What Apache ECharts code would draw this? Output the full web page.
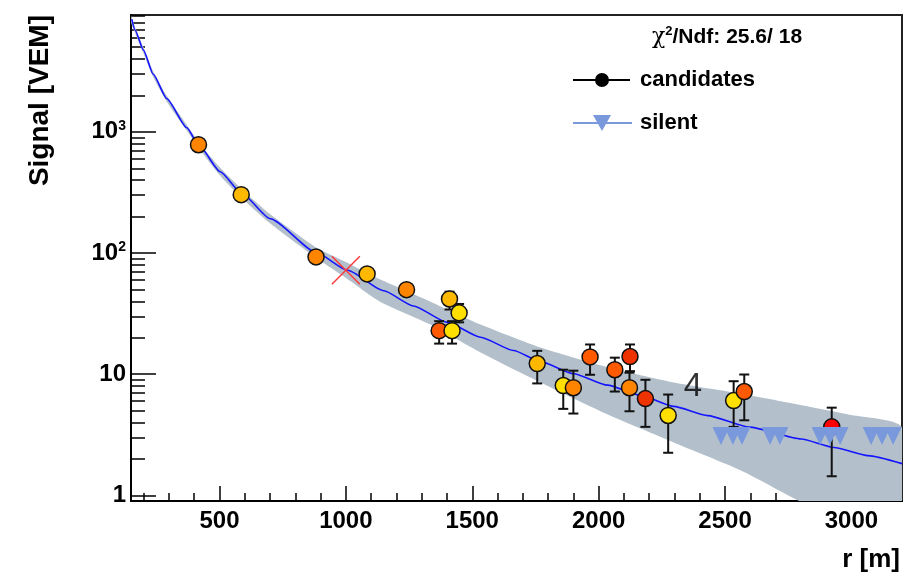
<!DOCTYPE html>
<html>
<head>
<meta charset="utf-8">
<script src="https://cdn.jsdelivr.net/npm/echarts@6/dist/echarts.min.js"></script>
<style>
    html, body { margin: 0; padding: 0; background: #fff; }
    #ldf { width: 910px; height: 576px; }
</style>
</head>
<body>
<div id="ldf"></div>
<script>
// candidate stations: distance to axis [m], signal [VEM], error bar ends, timing class
const candR  = [417, 586, 882, 1084, 1240, 1410, 1448, 1369, 1420, 1757, 1860, 1900, 1966, 2064, 2124, 2122, 2185, 2275, 2534, 2576, 2922]
const candS  = [783, 303, 92.9, 67.3, 49.9, 41.8, 32.1, 22.9, 22.9, 12.25, 8.07, 7.74, 13.9, 10.9, 14.0, 7.74, 6.3, 4.57, 6.07, 7.2, 3.68]
const candLo = [745, 288, 87, 63, 46, 34.2, 26.8, 17.9, 17.9, 8.4, 5.18, 4.74, 9.9, 7.2, 10.6, 4.95, 3.68, 2.25, 3.68, 4.17, 1.44]
const candHi = [823, 318, 99, 72, 54, 48, 38, 27.4, 27.4, 15.6, 10.9, 10.7, 17.6, 13.7, 17.6, 10.3, 9.0, 6.8, 8.76, 9.95, 5.3]
const candLevel = [2, 1, 2, 1, 2, 1, 0, 3, 0, 1, 0, 2, 3, 3, 4, 2, 4, 0, 0, 3, 5]

// silent stations
const silentR = [2484, 2531, 2567, 2678, 2717, 2876, 2915, 2955, 3078, 3121, 3165]
const silentS = [3.1, 3.1, 3.1, 3.1, 3.1, 3.1, 3.1, 3.1, 3.1, 3.1, 3.1]

// fitted LDF
const fitR = [153, 166, 199, 238, 291, 371, 417, 503, 589, 701, 886, 1005, 1150, 1267, 1401, 1533, 1663, 1770, 1901, 2035, 2167, 2297, 2431, 2595, 2801, 2931, 3065, 3200]
const fitS = [8510, 6920, 4730, 2985, 1884, 1079, 782, 469, 308, 192, 100, 72.4, 48.8, 36.6, 26.8, 20.2, 15.7, 12.7, 10.1, 8.13, 6.67, 5.43, 4.56, 3.66, 2.92, 2.49, 2.13, 1.83]

// uncertainty band of the fit
const bandR  = [150, 166, 199, 238, 291, 371, 423, 503, 589, 701, 886, 1002, 1137, 1335, 1533, 1770, 2036, 2297, 2563, 2789, 3000, 3200]
const bandHi = [9100, 7300, 5000, 3150, 1990, 1140, 795, 505, 335, 209, 110, 84, 60.4, 39.7, 25.7, 16.6, 11.4, 8.54, 6.9, 5.63, 4.6, 3.64]
const bandLo = [8000, 6550, 4470, 2830, 1780, 1020, 712, 434, 283, 175, 90, 62, 39.5, 25.7, 15.1, 8.54, 4.65, 2.74, 1.61, 0.91, 0.55, 0.36]

// S(1000) reference point
const refR = [1000]
const refS = [72]

// annotation
const noteR = [2373]
const noteS = [7.8]
const noteText = ['4']

// axes
const xMajor = [500, 1000, 1500, 2000, 2500, 3000]
const xMinor = [200, 300, 400, 600, 700, 800, 900, 1100, 1200, 1300, 1400, 1600, 1700, 1800, 1900,
    2100, 2200, 2300, 2400, 2600, 2700, 2800, 2900, 3100]
const yMajor = [1, 10, 100, 1000]
const yMajorLabels = ['1', '10', '10{sup|2}', '10{sup|3}']
const yMinor = [2, 3, 4, 5, 6, 7, 8, 9, 20, 30, 40, 50, 60, 70, 80, 90,
    200, 300, 400, 500, 600, 700, 800, 900, 2000, 3000, 4000, 5000, 6000, 7000, 8000, 9000]

const chiText = '{chi|χ}{sup|2}/Ndf: 25.6/ 18'
const legendNames = ['candidates', 'silent']

const levelColors = ['#ffe000', '#ffb800', '#ff8400', '#ff5a00', '#ee3200', '#ff0000']
const bandColor = '#b3c0cb'
const silentColor = '#7a98dc'
const fontFamily = '"Liberation Sans", Arial, sans-serif'

const X_MIN = 150, X_MAX = 3200, Y_MIN = 0.9, Y_MAX = 9200

function xAxisDef(values, len, main) {
    return {
        type: 'value', min: X_MIN, max: X_MAX, position: 'bottom',
        axisLine: { show: main, onZero: false, lineStyle: { color: '#000', width: 2 } },
        axisTick: { show: true, inside: true, length: len, customValues: values, lineStyle: { color: '#000', width: 1.5 } },
        axisLabel: {
            show: main, customValues: values, margin: 8,
            color: '#000', fontFamily: fontFamily, fontWeight: 'bold', fontSize: 24,
            formatter: (v) => String(Math.round(v)),
        },
        splitLine: { show: false },
    }
}

function yAxisDef(values, len, main) {
    return {
        type: 'log', logBase: 10, min: Y_MIN, max: Y_MAX, position: 'left',
        axisLine: { show: main, onZero: false, lineStyle: { color: '#000', width: 2 } },
        axisTick: { show: true, inside: true, length: len, customValues: values, lineStyle: { color: '#000', width: 1.5 } },
        axisLabel: {
            show: main, customValues: values, margin: 5,
            color: '#000', fontFamily: fontFamily, fontWeight: 'bold', fontSize: 24,
            formatter: (v) => {
                const i = yMajor.findIndex(t => Math.abs(t - v) / t < 1e-6)
                return i >= 0 ? yMajorLabels[i] : ''
            },
            rich: {
                sup: { fontSize: 14, fontWeight: 'bold', fontFamily: fontFamily, color: '#000', padding: [0, 0, 12, 0] },
            },
        },
        splitLine: { show: false },
    }
}

const chart = echarts.init(document.getElementById('ldf'), null, { renderer: 'canvas' })

chart.setOption({
    animation: false,
    backgroundColor: '#fff',
    grid: {
        left: 131, right: 8, top: 15, bottom: 75,
        show: true, borderColor: '#222', borderWidth: 2, backgroundColor: 'transparent',
    },
    xAxis: [xAxisDef(xMajor, 15, true), xAxisDef(xMinor, 8, false)],
    yAxis: [yAxisDef(yMajor, 25, true), yAxisDef(yMinor, 14, false)],
    series: [
        {
            // fit uncertainty band
            type: 'custom',
            clip: true,
            z: 1,
            data: bandR.map((r, i) => [r, bandLo[i], bandHi[i]]),
            renderItem: (params, api) => {
                if (params.dataIndex !== 0) return null
                const pts = []
                bandR.forEach((r, i) => pts.push(api.coord([r, bandHi[i]])))
                for (let i = bandR.length - 1; i >= 0; i--) pts.push(api.coord([bandR[i], bandLo[i]]))
                const cs = params.coordSys
                return {
                    type: 'polygon',
                    shape: { points: pts, smooth: 0.2 },
                    style: { fill: bandColor },
                    clipPath: { type: 'rect', shape: { x: cs.x, y: cs.y, width: cs.width, height: cs.height } },
                }
            },
        },
        {
            // LDF fit
            type: 'line',
            z: 2,
            data: fitR.map((r, i) => [r, fitS[i]]),
            smooth: 0.2,
            smoothMonotone: 'x',
            showSymbol: false,
            lineStyle: { color: '#1414ff', width: 1.6 },
        },
        {
            // error bars
            type: 'custom',
            z: 3,
            data: candR.map((r, i) => [r, candLo[i], candHi[i]]),
            renderItem: (params, api) => {
                const lo = api.coord([api.value(0), api.value(1)])
                const hi = api.coord([api.value(0), api.value(2)])
                const w = 5
                const st = { stroke: '#111', lineWidth: 2 }
                return {
                    type: 'group',
                    children: [
                        { type: 'line', shape: { x1: lo[0], y1: lo[1], x2: hi[0], y2: hi[1] }, style: st },
                        { type: 'line', shape: { x1: lo[0] - w, y1: lo[1], x2: lo[0] + w, y2: lo[1] }, style: st },
                        { type: 'line', shape: { x1: hi[0] - w, y1: hi[1], x2: hi[0] + w, y2: hi[1] }, style: st },
                    ],
                }
            },
        },
        {
            name: 'candidates',
            type: 'scatter',
            z: 4,
            symbol: 'circle',
            symbolSize: 16,
            data: candR.map((r, i) => ({
                value: [r, candS[i]],
                itemStyle: { color: levelColors[candLevel[i]] },
            })),
            itemStyle: { borderColor: '#111', borderWidth: 1.5, opacity: 1 },
        },
        {
            name: 'silent',
            type: 'scatter',
            z: 5,
            symbol: 'triangle',
            symbolRotate: 180,
            symbolSize: [17, 18],
            data: silentR.map((r, i) => [r, silentS[i]]),
            itemStyle: { color: silentColor, opacity: 1 },
        },
        {
            // S(1000)
            type: 'scatter',
            z: 6,
            symbol: 'path://M0,0L10,10M10,0L0,10',
            symbolSize: 28,
            data: refR.map((r, i) => [r, refS[i]]),
            itemStyle: { color: 'rgba(0,0,0,0)', borderColor: '#ff3b3b', borderWidth: 1.5, opacity: 1 },
        },
        {
            type: 'scatter',
            z: 7,
            symbolSize: 1,
            itemStyle: { color: 'rgba(0,0,0,0)' },
            data: noteR.map((r, i) => [r, noteS[i]]),
            label: {
                show: true, position: 'inside',
                formatter: (p) => noteText[p.dataIndex],
                color: '#000', fontFamily: fontFamily, fontSize: 33,
            },
        },
    ],
    graphic: [
        {
            type: 'text', x: 40, y: 15, rotation: Math.PI / 2,
            style: {
                text: 'Signal [VEM]', align: 'right', verticalAlign: 'middle',
                fill: '#000', font: 'bold 28px ' + fontFamily,
            },
        },
        {
            type: 'text', x: 900, y: 560,
            style: {
                text: 'r [m]', align: 'right', verticalAlign: 'middle',
                fill: '#000', font: 'bold 26px ' + fontFamily,
            },
        },
        {
            type: 'text', x: 727, y: 37,
            style: {
                text: chiText, align: 'center', verticalAlign: 'middle',
                fill: '#000', font: 'bold 21px ' + fontFamily,
                rich: {
                    chi: { font: '22px "DejaVu Serif", serif', fill: '#000' },
                    sup: { font: 'bold 13px ' + fontFamily, fill: '#000', padding: [0, 0, 11, 0] },
                },
            },
        },
        { type: 'line', shape: { x1: 573, y1: 80, x2: 630, y2: 80 }, style: { stroke: '#000', lineWidth: 2 } },
        { type: 'circle', shape: { cx: 602, cy: 80, r: 7 }, style: { fill: '#000' } },
        {
            type: 'text', x: 640, y: 80,
            style: { text: legendNames[0], verticalAlign: 'middle', fill: '#000', font: 'bold 22px ' + fontFamily },
        },
        { type: 'line', shape: { x1: 573, y1: 123, x2: 632, y2: 123 }, style: { stroke: silentColor, lineWidth: 2 } },
        { type: 'polygon', shape: { points: [[593, 115], [611, 115], [602, 131]] }, style: { fill: silentColor } },
        {
            type: 'text', x: 640, y: 123,
            style: { text: legendNames[1], verticalAlign: 'middle', fill: '#000', font: 'bold 22px ' + fontFamily },
        },
    ],
})

window.addEventListener('resize', () => {
    if (chart) chart.resize()
})
</script>
</body>
</html>
